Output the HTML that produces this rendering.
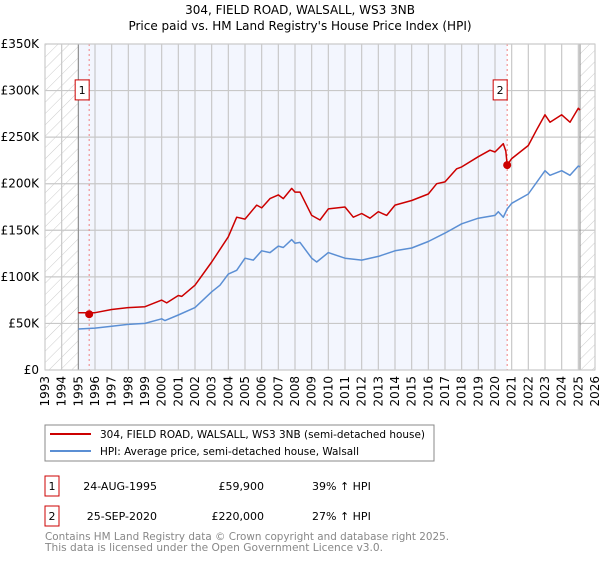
<!DOCTYPE html>
<html><head><meta charset="utf-8"><style>
body{margin:0;background:#fff;font-family:"DejaVu Sans","Liberation Sans",sans-serif;}
svg text{font-family:"DejaVu Sans","Liberation Sans",sans-serif;}
</style></head><body>
<svg id="c" width="600" height="560" xmlns="http://www.w3.org/2000/svg">
<defs><pattern id="h" width="8" height="8" patternUnits="userSpaceOnUse" patternTransform="rotate(45)"><line x1="0" y1="0" x2="0" y2="8" stroke="#ccc" stroke-width="1"/></pattern></defs>
<text x="300" y="14" text-anchor="middle" font-size="12">304, FIELD ROAD, WALSALL, WS3 3NB</text>
<text x="300" y="30" text-anchor="middle" font-size="12">Price paid vs. HM Land Registry's House Price Index (HPI)</text>
<g id="plot"></g>
<g>
<rect x="45" y="425" width="389" height="36" fill="#fff" stroke="#888"/>
<line x1="50" y1="434" x2="91" y2="434" stroke="#cc0000" stroke-width="2"/>
<text x="100" y="438" font-size="11" textLength="325" lengthAdjust="spacingAndGlyphs">304, FIELD ROAD, WALSALL, WS3 3NB (semi-detached house)</text>
<line x1="50" y1="451" x2="91" y2="451" stroke="#5b8fd4" stroke-width="2"/>
<text x="100" y="455" font-size="11" textLength="259" lengthAdjust="spacingAndGlyphs">HPI: Average price, semi-detached house, Walsall</text>
</g>
<g font-size="11">
<rect x="45" y="476" width="14" height="20" fill="#fff" stroke="#cc0000"/>
<text x="52" y="490" text-anchor="middle">1</text>
<text x="157" y="490" text-anchor="end">24-AUG-1995</text>
<text x="264" y="490" text-anchor="end">£59,900</text>
<text x="312" y="490">39% ↑ HPI</text>
<rect x="45" y="506" width="14" height="20" fill="#fff" stroke="#cc0000"/>
<text x="52" y="520" text-anchor="middle">2</text>
<text x="157" y="520" text-anchor="end">25-SEP-2020</text>
<text x="264" y="520" text-anchor="end">£220,000</text>
<text x="312" y="520">27% ↑ HPI</text>
</g>
<text x="45" y="540" font-size="11" fill="#888" textLength="404" lengthAdjust="spacingAndGlyphs">Contains HM Land Registry data © Crown copyright and database right 2025.</text>
<text x="45" y="551" font-size="11" fill="#888" textLength="338" lengthAdjust="spacingAndGlyphs">This data is licensed under the Open Government Licence v3.0.</text>
</svg>
<script>
const years=[1993,1994,1995,1996,1997,1998,1999,2000,2001,2002,2003,2004,2005,2006,2007,2008,2009,2010,2011,2012,2013,2014,2015,2016,2017,2018,2019,2020,2021,2022,2023,2024,2025,2026];
const yTicks=[0,50,100,150,200,250,300,350];
const redT=[1995,1996,1997,1998,1999,2000,2000.3,2001,2001.2,2002,2003,2004,2004.5,2005,2005.7,2006,2006.5,2007,2007.3,2007.8,2008,2008.3,2009,2009.5,2010,2011,2011.5,2012,2012.5,2013,2013.5,2014,2015,2016,2016.5,2017,2017.7,2018,2019,2019.7,2020,2020.5,2020.65,2020.73,2021,2022,2022.5,2023,2023.3,2024,2024.5,2025,2025.1];
const redV=[61.5,61.5,65,67,68,75,72,80,79,91,116,143,164,162,177,174,184,188,184,195,191,191,166,161,173,175,164,168,163,170,166,177,182,189,200,202,216,218,229,236,234,243,235,220,227,241,258,274,266,274,266,281,279];
const blueT=[1995,1996,1997,1998,1999,2000,2000.2,2001,2002,2003,2003.5,2004,2004.5,2005,2005.5,2006,2006.5,2007,2007.3,2007.8,2008,2008.3,2009,2009.3,2010,2011,2012,2013,2014,2015,2016,2017,2018,2019,2020,2020.2,2020.5,2020.73,2021,2022,2023,2023.3,2024,2024.5,2025,2025.1];
const blueV=[44,45,47,49,50,55,53,59,67,84,91,103,107,120,118,128,126,133,131.5,140,136,137,120,116,126,120,118,122,128,131,138,147,157,163,166,170,164,173,179,189,214,209,214,209,219,218];
const saleT=[1995.65,2020.73];
const saleV=[59.9,220];
const saleLabels=["1","2"];
const NS="http://www.w3.org/2000/svg";
const X0=45,X1=595,Y0=370,Y1=44;
const xs=t=>X0+(t-1993)/(2026-1993)*(X1-X0);
const ys=v=>Y0-v/350*(Y0-Y1);
const plot=document.getElementById('plot');
function mk(tag,attrs){const e=document.createElementNS(NS,tag);for(const k in attrs)e.setAttribute(k,attrs[k]);plot.appendChild(e);return e;}
let e;
e=mk('rect',{x:xs(1995),y:Y1,width:xs(saleT[1])-xs(1995),height:Y0-Y1,fill:'#f3f6fe'});


e=mk('rect',{x:X0,y:Y1,width:xs(1995)-X0,height:Y0-Y1,fill:'url(#h)'});


e=mk('rect',{x:xs(2025.1),y:Y1,width:X1-xs(2025.1),height:Y0-Y1,fill:'url(#h)'});


years.forEach(y=>{const l=mk('line',{x1:xs(y),x2:xs(y),y1:Y1,y2:Y0,stroke:'#c8c8c8','stroke-width':1.2});


const t=mk('text',{x:0,y:0,'font-size':12,'text-anchor':'end',transform:`translate(${xs(y)+4},${Y0+6}) rotate(-90)`});t.textContent=y;

});
yTicks.forEach(v=>{const l=mk('line',{x1:X0,x2:X1,y1:ys(v),y2:ys(v),stroke:'#c8c8c8','stroke-width':1.2});


const t=mk('text',{x:39,y:ys(v)+4,'font-size':12,'text-anchor':'end'});t.textContent=v===0?'£0':'£'+v+'K';

});
[1995,2025.1].forEach(y=>{const l=mk('line',{x1:xs(y),x2:xs(y),y1:Y1,y2:Y0,stroke:'#888','stroke-width':1});

});
saleT.forEach(t=>{const l=mk('line',{x1:xs(t),x2:xs(t),y1:Y1,y2:Y0,stroke:'#f08080','stroke-width':1,'stroke-dasharray':'2,3'});

});
function path(T,V,c,name){const d=T.map((t,i)=>(i?'L':'M')+xs(t).toFixed(1)+','+ys(V[i]).toFixed(1)).join('');
const p=mk('path',{d:d,fill:'none',stroke:c,'stroke-width':1.5,'stroke-linejoin':'round'});

}
path(blueT,blueV,'#5b8fd4','hpi-line');
path(redT,redV,'#cc0000','property-line');
saleT.forEach((t,i)=>{const c=mk('circle',{cx:xs(t),cy:ys(saleV[i]),r:4,fill:'#cc0000'});


const r=mk('rect',{x:xs(t)-14,y:ys(305)-6,width:14,height:20,fill:'#fff',stroke:'#cc0000'});


const tx=mk('text',{x:xs(t)-7,y:ys(305)+8,'font-size':11,'text-anchor':'middle'});tx.textContent=saleLabels[i];

});
const b=mk('rect',{x:X0,y:Y1,width:X1-X0,height:Y0-Y1,fill:'none',stroke:'#ccc'});


</script>
</body></html>
